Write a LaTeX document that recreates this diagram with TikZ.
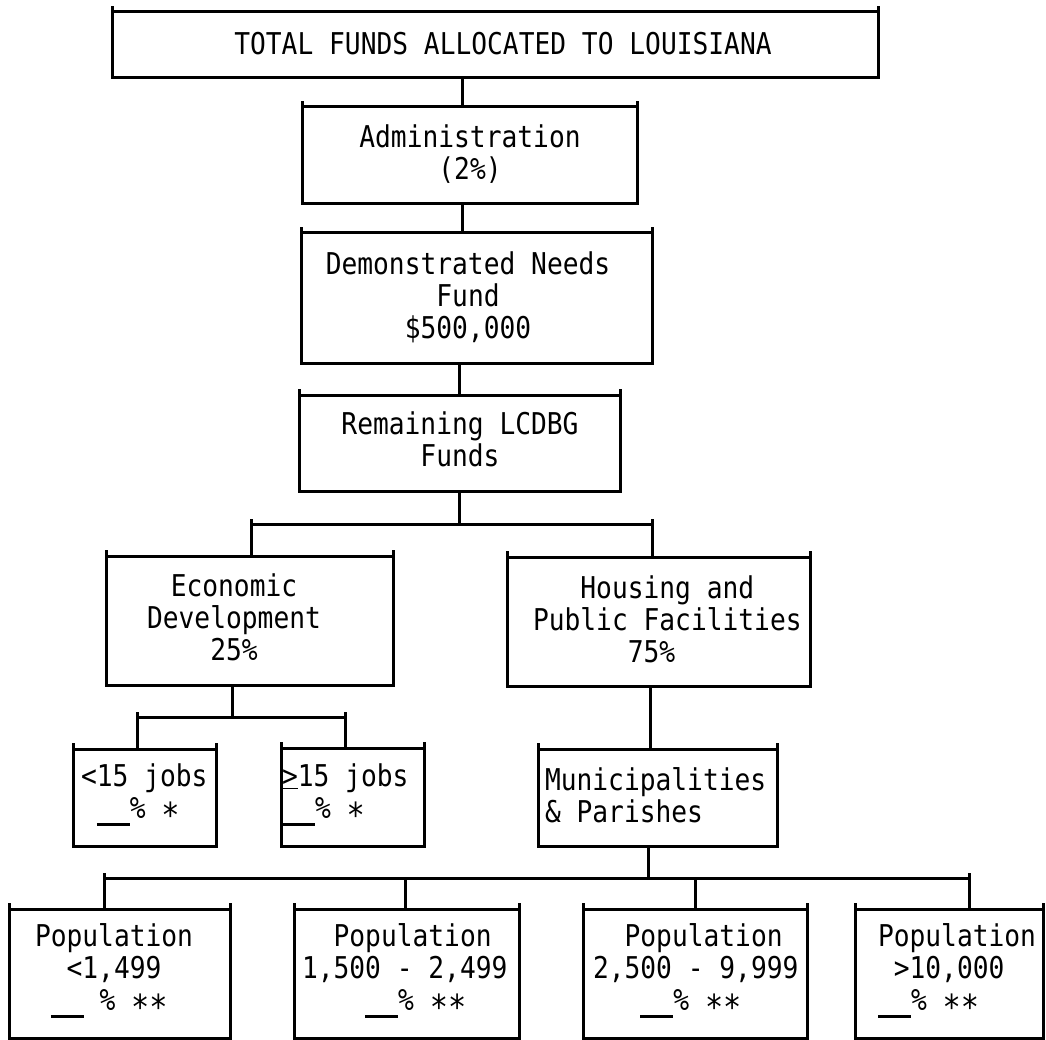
\documentclass[tikz,border=0pt]{standalone}
\usepackage{fontspec}
\usepackage{graphicx}
\newfontfamily\tw[FakeStretch=0.875]{DejaVu Sans Mono}
\newcommand\blank{\rule[-7pt]{33pt}{2.6pt}}
\newcommand\st{\raisebox{-9pt}{\scalebox{1.15}{*}}}
\begin{document}
\begin{tikzpicture}[x=1pt,y=-1pt,
  box/.style={draw, line width=3pt, inner sep=0pt, outer sep=0pt},
  txt/.style={font={\tw\fontsize{30}{32}\selectfont}, inner sep=0pt, outer sep=0pt},
  link/.style={line width=3pt}]
\fill[white] (0,0) rectangle (1046,1040);
\useasboundingbox (0,0) rectangle (1046,1040);
% boxes
\node[box, minimum width=766, minimum height=66]  (total)   at (495,45) {};
\node[box, minimum width=335, minimum height=97]  (admin)   at (469.5,155.5) {};
\node[box, minimum width=351, minimum height=130] (demo)    at (476.5,298) {};
\node[box, minimum width=321, minimum height=96]  (remain)  at (459.5,443) {};
\node[box, minimum width=287, minimum height=129] (econ)    at (249.5,620.5) {};
\node[box, minimum width=303, minimum height=129] (housing) at (658.5,621.5) {};
\node[box, minimum width=143, minimum height=97]  (lt15)    at (144.5,797.5) {};
\node[box, minimum width=143, minimum height=98]  (ge15)    at (352.5,797) {};
\node[box, minimum width=239, minimum height=97]  (muni)    at (657.5,797.5) {};
\node[box, minimum width=221, minimum height=129] (p1)      at (119.5,973.5) {};
\node[box, minimum width=225, minimum height=129] (p2)      at (406.5,973.5) {};
\node[box, minimum width=224, minimum height=129] (p3)      at (695,973.5) {};
\node[box, minimum width=188, minimum height=129] (p4)      at (949,973.5) {};
% corner overshoots
\foreach \b in {total,admin,demo,remain,econ,housing,lt15,ge15,muni,p1,p2,p3,p4}
  \draw[link] (\b.north west) -- ++(0,-6) (\b.north east) -- ++(0,-6);
% texts
\node[txt] (ttotal) at (503,44) {TOTAL FUNDS ALLOCATED TO LOUISIANA};
\node[txt, align=center] (tadmin) at (470,154) {Administration\\(2\%)};
\node[txt, align=center] (tdemo) at (468,297) {Demonstrated Needs\\Fund\\\$500,000};
\node[txt, align=center] (tremain) at (460,439) {Remaining LCDBG\\Funds};
\node[txt, align=center] (tecon) at (234,617) {Economic\\Development\\25\%};
\node[txt, align=left, anchor=west] (thousing) at (533,619)
  {\hphantom{000}Housing and\\Public Facilities\\\hphantom{000000}75\%};
\node[txt, align=left, anchor=west] (tlt15) at (81,796)
  {<15 jobs\\\hphantom{0}\blank\% \st};
\node[txt, align=left, anchor=west] (tge15) at (282,796)
  {\underline{>}15 jobs\\\blank\% \st};
\node[txt, align=left, anchor=west] (tmuni) at (545,795)
  {Municipalities\\\& Parishes};
\node[txt, align=left, anchor=west] (tp1) at (35,972)
  {Population\\\hphantom{00}<1,499\\\hphantom{0}\blank\ \% \st\st};
\node[txt, align=left, anchor=west] (tp2) at (302,972)
  {\hphantom{00}Population\\1,500 - 2,499\\\hphantom{0000}\blank\% \st\st};
\node[txt, align=left, anchor=west] (tp3) at (593,972)
  {\hphantom{00}Population\\2,500 - 9,999\\\hphantom{000}\blank\% \st\st};
\node[txt, align=left, anchor=west] (tp4) at (878,972)
  {Population\\\hphantom{0}>10,000\\\blank\% \st\st};
% junction coordinates
\coordinate (x1) at (462,0);
\coordinate (x2) at (650,0);
\coordinate (j1) at (459,524);
\coordinate (j1l) at (251,524);
\coordinate (j1r) at (652,524);
\coordinate (j2) at (232,717);
\coordinate (j2l) at (137,717);
\coordinate (j2r) at (345,717);
\coordinate (j3) at (648,878);
\coordinate (j3a) at (104,878);
\coordinate (j3b) at (405,878);
\coordinate (j3c) at (695,878);
\coordinate (j3d) at (969,878);
% connectors
\draw[link] (total.south -| x1) -- (admin.north -| x1);
\draw[link] (admin.south -| x1) -- (demo.north -| x1);
\draw[link] (demo.south -| j1) -- (remain.north -| j1);
\draw[link] (remain.south -| j1) -- (j1);
\draw[link] (econ.north -| j1l) -- (j1l) -- (j1r) -- (housing.north -| j1r);
\draw[link] (econ.south -| j2) -- (j2);
\draw[link] (lt15.north -| j2l) -- (j2l) -- (j2r) -- (ge15.north -| j2r);
\draw[link] (housing.south -| x2) -- (muni.north -| x2);
\draw[link] (muni.south -| j3) -- (j3);
\draw[link] (p1.north -| j3a) -- (j3a) -- (j3d) -- (p4.north -| j3d);
\draw[link] (j3b) -- (p2.north -| j3b);
\draw[link] (j3c) -- (p3.north -| j3c);
% small overshoots at bracket ends
\foreach \c in {j1l,j1r,j2l,j2r,j3a,j3d}
  \draw[link] (\c) -- ++(0,-5);
\end{tikzpicture}
\end{document}
